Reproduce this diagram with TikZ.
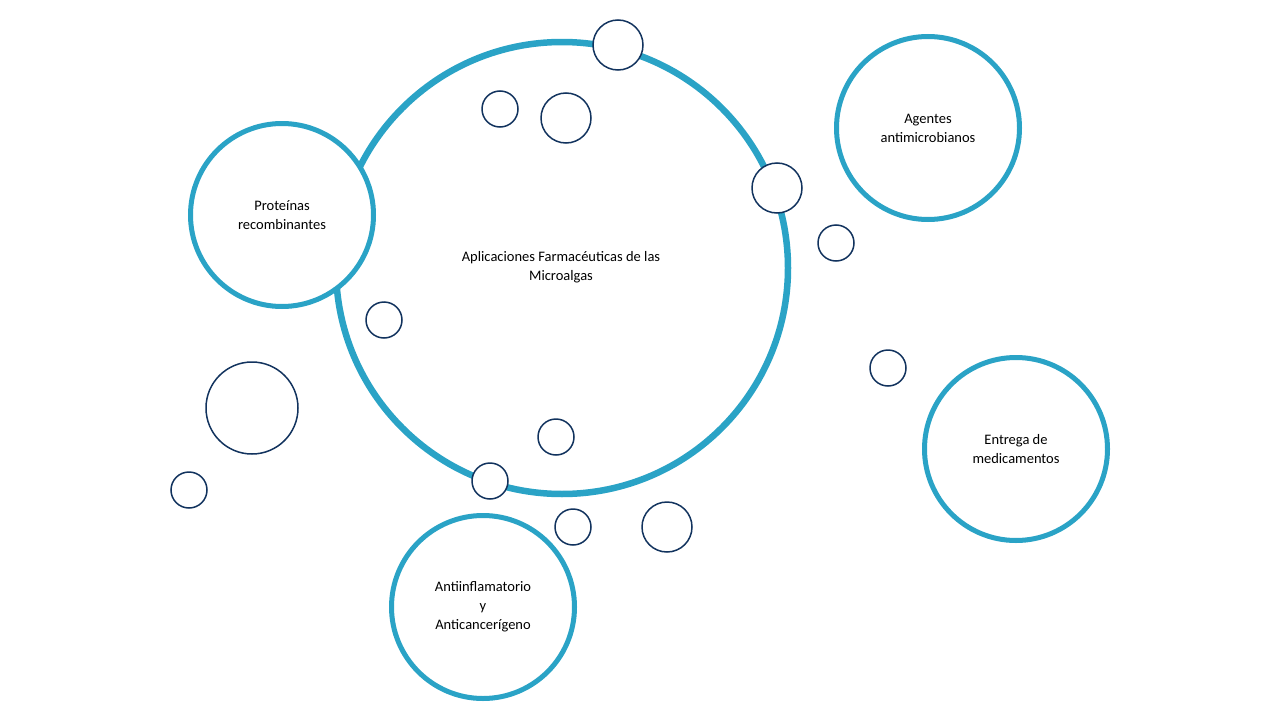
\documentclass[tikz,border=0pt]{standalone}
\usepackage{fontspec}
\setmainfont{Carlito}
\definecolor{teal}{HTML}{2AA3C6}
\definecolor{navy}{HTML}{12335E}
\begin{document}
\begin{tikzpicture}[x=1pt,y=-1pt,
 big/.style={circle,draw=teal,line width=6.5pt,fill=white,inner sep=0pt,align=center,font=\fontsize{14.5}{17}\selectfont},
 sat/.style={circle,draw=teal,line width=5pt,fill=white,inner sep=0pt,minimum size=183pt,align=center,font=\fontsize{14.5}{19}\selectfont},
 sm/.style={circle,draw=navy,line width=1.5pt,fill=white,inner sep=0pt}]
\path[use as bounding box] (0,0) rectangle (1280,720);
\node[big,minimum size=452pt] (main) at (562,268) {};
\node (title) at (561,267) [align=center,font=\fontsize{14.5}{19}\selectfont] {Aplicaciones Farmacéuticas de las\\Microalgas};
\node[sat] (p) at (282,215) {Proteínas\\recombinantes};
\node[sat] (a) at (928,128) {Agentes\\antimicrobianos};
\node[sat] (e) at (1016,449) {Entrega de\\medicamentos};
\node[sat] (i) at (483,607) {Antiinflamatorio\\y\\Anticancerígeno};
\foreach \n/\x/\y/\r in {s1/618/45/25,s2/500/109/18,s3/566/118/25,s4/777/188/25,s5/836/243/18,s6/384/320/18,s7/888/368/18,s8/252/408/46,s9/556/437/18,s10/490/481/18,s11/189/490/18,s12/573/527/18,s13/667/527/25}
  \node[sm,minimum size=2*\r pt] (\n) at (\x,\y) {};
\end{tikzpicture}
\end{document}
